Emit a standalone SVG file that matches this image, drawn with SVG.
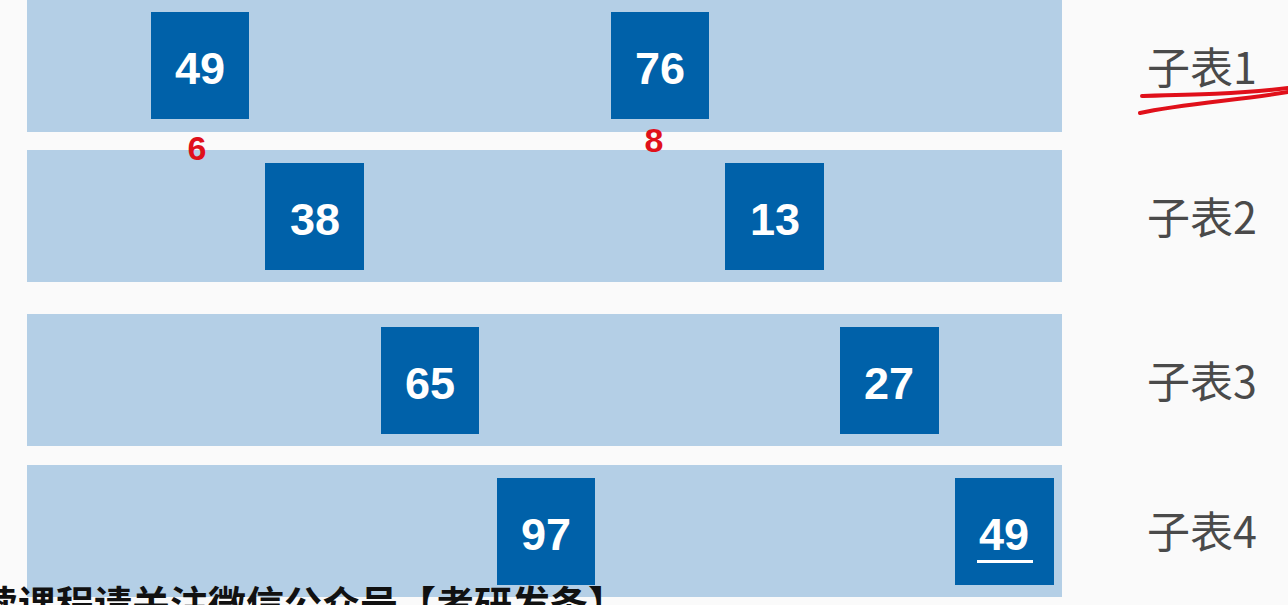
<svg xmlns="http://www.w3.org/2000/svg" width="1288" height="605" viewBox="0 0 1288 605">
<style>
.band{fill:#b4cfe6}
.box{fill:#0061a9}
.num{font-family:"Liberation Sans",Arial,sans-serif;font-weight:bold;font-size:45px;fill:#ffffff;text-anchor:middle}
.lbl{font-family:"Noto Sans CJK SC","Noto Sans",sans-serif;font-size:43px;fill:#4a4a4a}
.red{fill:none;stroke:#e0101a;stroke-width:4;stroke-linecap:round}
.hw{font-family:"Liberation Sans",sans-serif;font-weight:bold;font-size:34px;fill:#e0101a;text-anchor:middle}
</style>
<rect width="1288" height="605" fill="#fafafa"/>
<g id="bands">
<rect class="band" x="27" y="0" width="1035" height="132"/>
<rect class="band" x="27" y="150" width="1035" height="132"/>
<rect class="band" x="27" y="314" width="1035" height="132"/>
<rect class="band" x="27" y="465" width="1035" height="132"/>
</g>
<g id="n1a"><rect class="box" x="151" y="12" width="98" height="107"/><text class="num" x="200" y="84">49</text></g>
<g id="n1b"><rect class="box" x="611" y="12" width="98" height="107"/><text class="num" x="660" y="84">76</text></g>
<g id="n2a"><rect class="box" x="265" y="163" width="99" height="107"/><text class="num" x="315" y="235">38</text></g>
<g id="n2b"><rect class="box" x="725" y="163" width="99" height="107"/><text class="num" x="775" y="235">13</text></g>
<g id="n3a"><rect class="box" x="381" y="327" width="98" height="107"/><text class="num" x="430" y="399">65</text></g>
<g id="n3b"><rect class="box" x="840" y="327" width="99" height="107"/><text class="num" x="889" y="399">27</text></g>
<g id="n4a"><rect class="box" x="497" y="478" width="98" height="107"/><text class="num" x="546" y="550">97</text></g>
<g id="n4b"><rect class="box" x="955" y="478" width="99" height="107"/><text class="num" x="1004" y="550">49</text><rect x="977" y="560" width="56" height="3" fill="#ffffff"/></g>
<g id="labels">
<text class="lbl" x="1147" y="84">子表1</text>
<text class="lbl" x="1147" y="234">子表2</text>
<text class="lbl" x="1147" y="398">子表3</text>
<text class="lbl" x="1147" y="548">子表4</text>
</g>
<g id="connectors"></g>
<g id="annotations">
<text class="hw" x="197" y="160">6</text>
<text class="hw" x="654" y="152">8</text>
<path class="red" d="M1142 96 C1190 95 1240 94 1288 88"/>
<path class="red" d="M1140 113 C1180 104 1240 100 1288 92"/>
</g>
<text x="-20" y="618" font-family="Noto Sans CJK SC,sans-serif" font-weight="bold" font-size="38" fill="#111">读课程请关注微信公众号【考研发条】</text>
</svg>
